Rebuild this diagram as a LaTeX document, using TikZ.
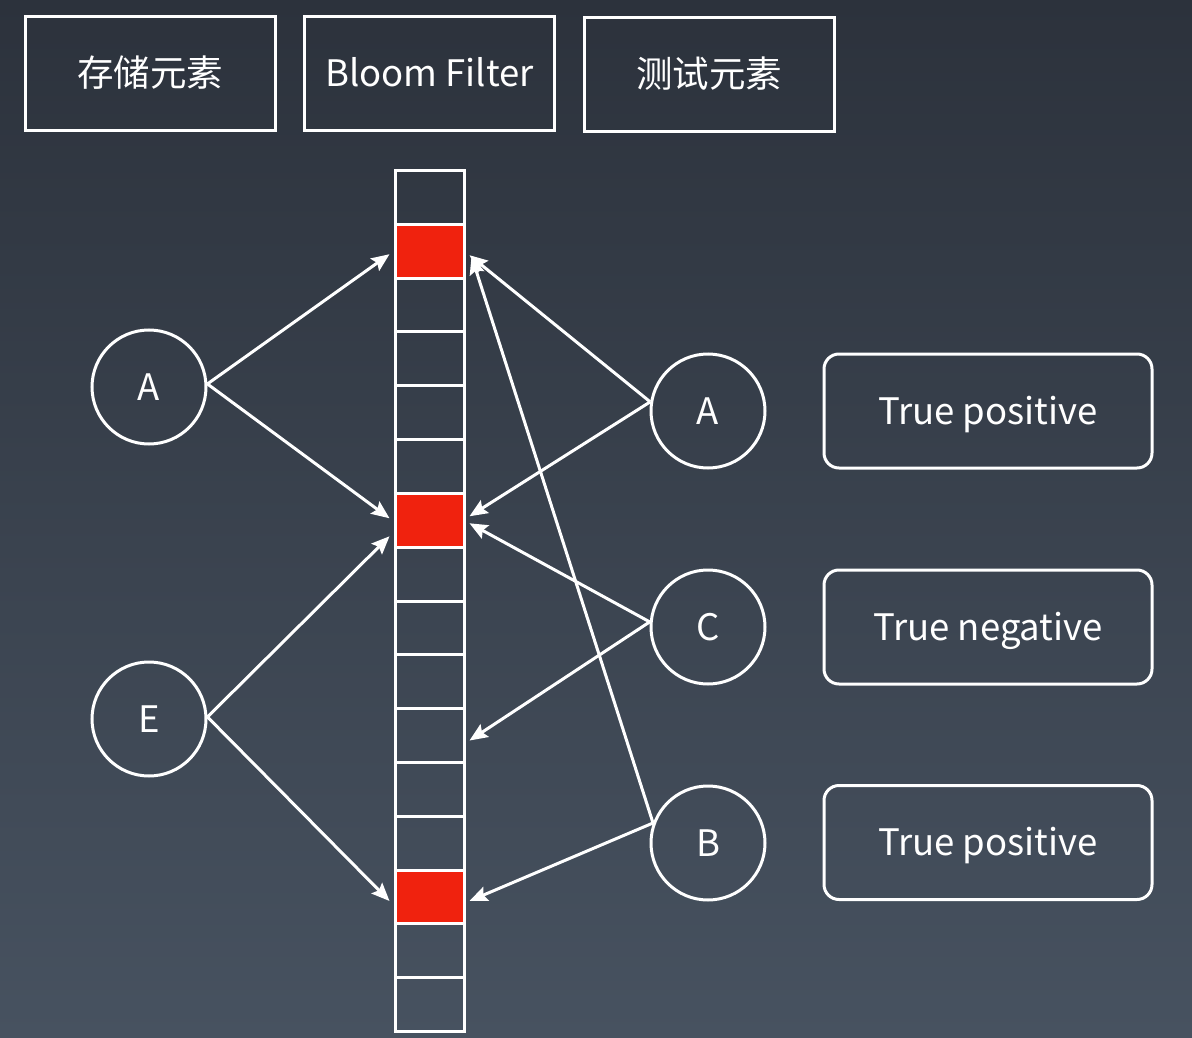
\documentclass[tikz,border=0pt]{standalone}
\usepackage{fontspec}
\setmainfont{Noto Sans CJK SC}
\usetikzlibrary{arrows.meta,calc}
\definecolor{bgtop}{RGB}{44,50,60}
\definecolor{bgbot}{RGB}{71,82,96}
\definecolor{hitred}{RGB}{240,34,14}
\begin{document}
\begin{tikzpicture}[x=1pt,y=-1pt,
  lbl/.style={font=\fontsize{36.5}{42}\selectfont, text=white, text height=26pt, text depth=0pt},
  header/.style={lbl, draw=white, line width=3pt, minimum width=250pt, minimum height=114pt, inner sep=0pt},
  cell/.style={draw=white, line width=3pt, minimum width=69pt, minimum height=53.8125pt, inner sep=0pt, anchor=north},
  hit/.style={cell, fill=hitred},
  elem/.style={lbl, circle, draw=white, line width=3pt, minimum size=114pt, inner sep=0pt},
  result/.style={lbl, draw=white, line width=3pt, rounded corners=15pt, minimum width=328pt, minimum height=114pt, inner sep=0pt},
  conn/.style={draw=white, line width=3pt, -{Stealth[length=18pt,width=15pt,inset=3pt]}}
]
\shade[top color=bgtop, bottom color=bgbot] (0,0) rectangle (1192,1038);
\useasboundingbox (0,0) rectangle (1192,1038);

% headers
\node[header] (h1) at (150,74) {存储元素};
\node[header] (h2) at (429.5,74) {Bloom Filter};
\node[header] (h3) at (709,75) {测试元素};

% bit array
\foreach \k in {0,...,15}{
  \pgfmathsetmacro{\yy}{169+\k*53.8125}
  \ifnum\k=1 \node[hit] (c\k) at (429.5,\yy) {};
  \else\ifnum\k=6 \node[hit] (c\k) at (429.5,\yy) {};
  \else\ifnum\k=13 \node[hit] (c\k) at (429.5,\yy) {};
  \else \node[cell] (c\k) at (429.5,\yy) {};
  \fi\fi\fi
}

% stored elements
\node[elem] (sA) at (149,387) {A};
\node[elem] (sE) at (149,719) {E};

% test elements
\node[elem] (tA) at (708,411) {A};
\node[elem] (tC) at (708,627) {C};
\node[elem] (tB) at (708,843) {B};

% results
\node[result] (rA) at (988,411) {True positive};
\node[result] (rC) at (988,627) {True negative};
\node[result] (rB) at (988,842.5) {True positive};

% targets
\coordinate (L1) at ($(c1.west)+(-4,3)$);
\coordinate (L6a) at ($(c6.west)+(-4,-2)$);
\coordinate (L6b) at ($(c6.west)+(-4,16)$);
\coordinate (L13) at ($(c13.west)+(-4,4)$);
\coordinate (R1a) at ($(c1.east)+(4,4)$);
\coordinate (R1b) at ($(c1.east)+(6,5)$);
\coordinate (R6a) at ($(c6.east)+(4,-4)$);
\coordinate (R6b) at ($(c6.east)+(4,3)$);
\coordinate (R10) at ($(c10.east)+(4,5)$);
\coordinate (R13) at ($(c13.east)+(4,4)$);

% connectors
\draw[conn] (sA.3) -- (L1);
\draw[conn] (sA.3) -- (L6a);
\draw[conn] (sE.2) -- (L6b);
\draw[conn] (sE.2) -- (L13);
\draw[conn] (tA.171) -- (R1a);
\draw[conn] (tA.171) -- (R6a);
\draw[conn] (tC.175) -- (R6b);
\draw[conn] (tC.175) -- (R10);
\draw[conn] (tB.160) -- (R1b);
\draw[conn] (tB.160) -- (R13);
\end{tikzpicture}
\end{document}
